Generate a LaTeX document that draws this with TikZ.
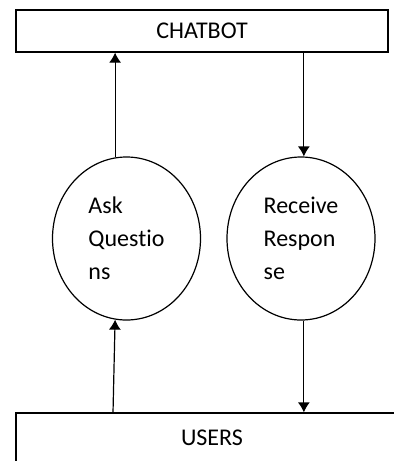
\documentclass[tikz,border=0pt]{standalone}
\usepackage{fontspec}
\setmainfont[Ligatures=CommonOff]{Carlito}
\usetikzlibrary{arrows.meta,shapes.geometric,positioning}

\begin{document}
\begin{tikzpicture}[x=0.5pt,y=-0.5pt,line width=0.6pt,
	entity/.style={draw,rectangle,inner sep=0pt,font=\fontsize{12}{14}\selectfont},
	process/.style={draw,ellipse,inner sep=0pt,minimum width=74pt,minimum height=81.5pt,align=left,font=\fontsize{12}{16.5}\selectfont},
	flow/.style={-{Latex[length=5pt,width=6pt]}}]
	\useasboundingbox (0,0) rectangle (394,461);
	\node (chatbot) at (202,31) [entity,minimum width=186pt,minimum height=21pt] {CHATBOT};
	\node (users) at (212,438) [entity,minimum width=196pt,minimum height=25pt] {USERS};
	\node (ask) at (126.5,238.5) [process] {Ask\\Questio\\ns};
	\node (receive) at (301,238.5) [process] {Receive\\Respon\\se};
	\coordinate (askfoot) at (113,413);
	\draw[flow] (ask.98) -- (ask.98 |- chatbot.south);
	\draw[flow] (receive.88 |- chatbot.south) -- (receive.88);
	\draw[flow] (askfoot) -- (ask.262);
	\draw[flow] (receive.272) -- (receive.272 |- users.north);
\end{tikzpicture}
\end{document}
